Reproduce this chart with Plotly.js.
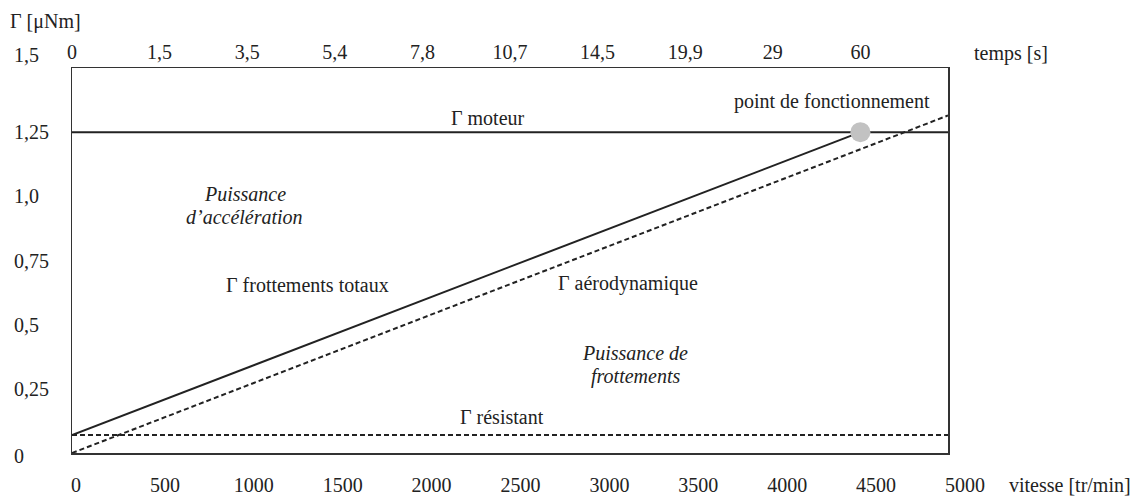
<!DOCTYPE html>
<html>
<head>
<meta charset="utf-8">
<script src="https://cdn.plot.ly/plotly-3.0.1.min.js"></script>
<style>
html,body{margin:0;padding:0;background:#fff;}
#chart{width:1143px;height:497px;}
</style>
</head>
<body>
<div id="chart"></div>
<script>
// ---- data ----
const speedTicks = [0, 500, 1000, 1500, 2000, 2500, 3000, 3500, 4000, 4500, 5000];
const speedTickText = ['0','500','1000','1500','2000','2500','3000','3500','4000','4500','5000'];
const timeTicks = [0, 500, 1000, 1500, 2000, 2500, 3000, 3500, 4000, 4500];
const timeTickText = ['0','1,5','3,5','5,4','7,8','10,7','14,5','19,9','29','60'];
const torqueTicks = [0, 0.25, 0.5, 0.75, 1.0, 1.25, 1.5];
const torqueTickText = ['0','0,25','0,5','0,75','1,0','1,25','1,5'];

const moteurX = [0, 5000];
const moteurY = [1.25, 1.25];
const totalX = [0, 4500];
const totalY = [0.07, 1.25];
const aeroX = [0, 5000];
const aeroY = [0, 1.315];
const resistX = [0, 5000];
const resistY = [0.07, 0.07];
const pointX = [4500];
const pointY = [1.25];

// ---- layout helpers ----
const FONT = 'Times New Roman, Liberation Serif, DejaVu Serif, serif';
const INK = '#222222';
const L = 72, R = 170, T = 68, B = 44;
const plotW = 1143 - L - R;          // 901
const mainDomainEnd = 876 / plotW;   // data box width 876 px

const line = (x, y, dash) => ({
  type: 'scatter', mode: 'lines', x: x, y: y,
  line: {color: INK, width: 2, dash: dash},
  hoverinfo: 'skip', showlegend: false
});

const traces = [
  line(moteurX, moteurY, 'solid'),
  line(totalX, totalY, 'solid'),
  line(aeroX, aeroY, '5px,3px'),
  line(resistX, resistY, '5px,3px'),
  {type: 'scatter', mode: 'markers', x: pointX, y: pointY,
   marker: {size: 20, color: '#c2c2c2'}, hoverinfo: 'skip', showlegend: false},
  // carrier (no points) for the bottom speed axis labels
  {type: 'scatter', mode: 'markers', x: [], y: [], xaxis: 'x2', yaxis: 'y',
   hoverinfo: 'skip', showlegend: false}
];

const annotations = [];
const txt = (text, x, y, opts) => Object.assign({
  text: text, x: x, y: y, xref: 'x', yref: 'y', showarrow: false,
  font: {family: FONT, size: 20, color: INK}, xanchor: 'center', yanchor: 'middle'
}, opts || {});

// y tick labels (left aligned)
torqueTicks.forEach((v, i) => {
  annotations.push(txt(torqueTickText[i], 0, v, {
    xref: 'paper', x: (12 - L) / plotW, xanchor: 'left',
    yshift: v === 1.5 ? 13 : (v === 0 ? -3 : 0)
  }));
});

annotations.push(txt('Γ [μNm]', (8 - L) / plotW, (453 - 22) / 385, {xref: 'paper', yref: 'paper', xanchor: 'left'}));
annotations.push(txt('temps [s]', (972 - L) / plotW, (453 - 53) / 385, {xref: 'paper', yref: 'paper', xanchor: 'left'}));
annotations.push(txt('vitesse [tr/min]', (1007 - L) / plotW, (453 - 485) / 385, {xref: 'paper', yref: 'paper', xanchor: 'left'}));

annotations.push(txt('Γ moteur', 2374, 1.305));
annotations.push(txt('<i>Puissance</i>', 987, 1.009));
annotations.push(txt('<i>d\u2019accélération</i>', 987, 0.919));
annotations.push(txt('Γ frottements totaux', 1347, 0.655));
annotations.push(txt('Γ aérodynamique', 3174, 0.662));
annotations.push(txt('<i>Puissance de</i>', 3214, 0.390));
annotations.push(txt('<i>frottements</i>', 3214, 0.300));
annotations.push(txt('Γ résistant', 2454, 0.140));
annotations.push(txt('point de fonctionnement', 4338, 1.368));

const layout = {
  width: 1143, height: 497,
  margin: {l: L, r: R, t: T, b: B, pad: 0},
  paper_bgcolor: '#ffffff', plot_bgcolor: 'rgba(0,0,0,0)',
  font: {family: FONT, size: 20, color: INK},
  showlegend: false,
  xaxis: {
    domain: [0, mainDomainEnd], range: [0, 5000], side: 'top',
    tickmode: 'array', tickvals: timeTicks, ticktext: timeTickText,
    ticks: '', showgrid: false, zeroline: false,
    showline: true, mirror: true, linecolor: '#333', linewidth: 1.5,
    tickfont: {family: FONT, size: 20, color: INK}, fixedrange: true
  },
  xaxis2: {
    domain: [(76 - L) / plotW, (965 - L) / plotW], range: [0, 5000],
    anchor: 'free', position: 0, side: 'bottom',
    tickmode: 'array', tickvals: speedTicks, ticktext: speedTickText,
    ticks: '', showgrid: false, zeroline: false, showline: false,
    ticklabelstandoff: 18,
    tickfont: {family: FONT, size: 20, color: INK}, fixedrange: true
  },
  yaxis: {
    domain: [0, 1], range: [0, 1.5],
    showticklabels: false, ticks: '', showgrid: false, zeroline: false,
    showline: true, mirror: true, linecolor: '#333', linewidth: 1.5, fixedrange: true
  },
  annotations: annotations
};

Plotly.newPlot('chart', traces, layout, {displayModeBar: false, staticPlot: true});
</script>
</body>
</html>
